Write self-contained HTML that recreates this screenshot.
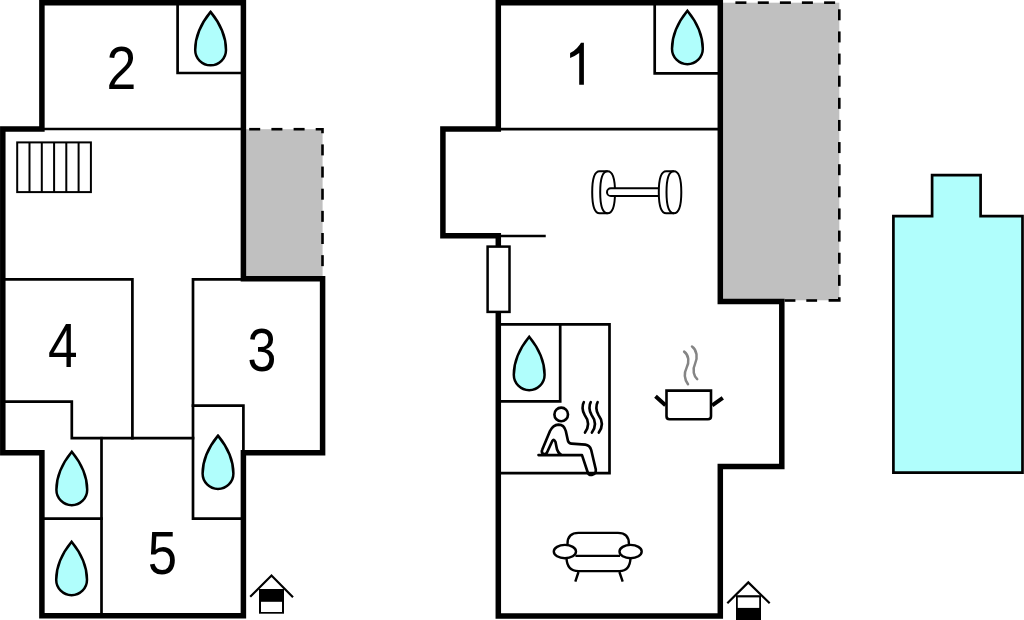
<!DOCTYPE html>
<html><head><meta charset="utf-8">
<style>
html,body{margin:0;padding:0;background:#fff;width:1024px;height:620px;overflow:hidden}
svg{display:block}
text{font-family:"Liberation Sans",sans-serif;fill:#000}
</style></head>
<body>
<svg width="1024" height="620" viewBox="0 0 1024 620">
<rect width="1024" height="620" fill="#fff"/>

<rect x="243.4" y="129.2" width="79.2" height="149.6" fill="#c0c0c0"/>
<g fill="#000"><rect x="249.20" y="127.90" width="11" height="2.6"/><rect x="271.40" y="127.90" width="11" height="2.6"/><rect x="293.60" y="127.90" width="11" height="2.6"/><path d="M315.7,127.9 H323.8 V133.2 H321.2 V130.5 H315.7 Z"/><rect x="321.20" y="144.40" width="2.6" height="11"/><rect x="321.20" y="166.55" width="2.6" height="11"/><rect x="321.20" y="188.70" width="2.6" height="11"/><rect x="321.20" y="210.85" width="2.6" height="11"/><rect x="321.20" y="233.00" width="2.6" height="11"/><rect x="321.20" y="255.15" width="2.6" height="11"/></g>
<g fill="none" stroke="#000" stroke-width="2.7" stroke-linecap="square">
<path d="M41.9,129 H243.4"/>
<path d="M177.6,2.7 V73 H243.4"/>
<path d="M2.8,279.3 H132.4 V438.2"/>
<path d="M2.8,401.6 H71.8 V438.2 H193"/>
<path d="M101.5,438.2 V615.8"/>
<path d="M41.9,518.6 H101.5"/>
<path d="M243.4,279.3 H193 V518.6 H243.4"/>
<path d="M193,405.6 H243.4 V452.7"/>
</g>
<path d="M41.9,2.7 H243.4 V278.8 H322.6 V452.7 H243.4 V615.8 H41.9 V452.7 H2.8 V129 H41.9 Z" fill="none" stroke="#000" stroke-width="5.5"/>
<g fill="none" stroke="#000" stroke-width="2">
<rect x="17.2" y="142.4" width="73.7" height="49.7"/>
<path d="M29.5,142.4V192.1M41.8,142.4V192.1M54.1,142.4V192.1M66.3,142.4V192.1M78.6,142.4V192.1"/>
</g>
<path transform="translate(210.6,11.9)" d="M0,0 C4.5,5.5 15.4,20 15.4,38 A15.4,15.4 0 0 1 -15.4,38 C-15.4,20 -4.5,5.5 0,0 Z" fill="#b0fefc" stroke="#000" stroke-width="2.5" stroke-linejoin="miter"/>
<path transform="translate(71.8,451.8)" d="M0,0 C4.5,5.5 15.4,20 15.4,38 A15.4,15.4 0 0 1 -15.4,38 C-15.4,20 -4.5,5.5 0,0 Z" fill="#b0fefc" stroke="#000" stroke-width="2.5" stroke-linejoin="miter"/>
<path transform="translate(71.6,541.8)" d="M0,0 C4.5,5.5 15.4,20 15.4,38 A15.4,15.4 0 0 1 -15.4,38 C-15.4,20 -4.5,5.5 0,0 Z" fill="#b0fefc" stroke="#000" stroke-width="2.5" stroke-linejoin="miter"/>
<path transform="translate(218,435.6)" d="M0,0 C4.5,5.5 15.4,20 15.4,38 A15.4,15.4 0 0 1 -15.4,38 C-15.4,20 -4.5,5.5 0,0 Z" fill="#b0fefc" stroke="#000" stroke-width="2.5" stroke-linejoin="miter"/>
<text transform="translate(121.4,89.4) scale(0.875,1)" font-size="61.3" text-anchor="middle">2</text>
<text transform="translate(62.9,366.7) scale(0.855,1)" font-size="62.2" text-anchor="middle">4</text>
<text transform="translate(261.8,370.8) scale(0.845,1)" font-size="61.3" text-anchor="middle">3</text>
<text transform="translate(162.3,573.8) scale(0.86,1)" font-size="61.3" text-anchor="middle">5</text>
<path d="M250.2,596.8 L271.5,575.5 L293,597.3" fill="none" stroke="#000" stroke-width="2.2"/>
<rect x="259" y="589" width="25" height="24.7" fill="#000"/>
<rect x="261" y="601.8" width="21" height="10.2" fill="#fff"/>
<rect x="720.3" y="2.7" width="119" height="297.6" fill="#c0c0c0"/>
<g fill="#000"><rect x="735.40" y="1.35" width="11" height="2.6"/><rect x="757.80" y="1.35" width="11" height="2.6"/><rect x="779.90" y="1.35" width="11" height="2.6"/><rect x="801.90" y="1.35" width="11" height="2.6"/><rect x="824.10" y="1.35" width="11" height="2.6"/><rect x="838.00" y="9.30" width="2.6" height="11"/><rect x="838.00" y="31.43" width="2.6" height="11"/><rect x="838.00" y="53.56" width="2.6" height="11"/><rect x="838.00" y="75.69" width="2.6" height="11"/><rect x="838.00" y="97.82" width="2.6" height="11"/><rect x="838.00" y="119.95" width="2.6" height="11"/><rect x="838.00" y="142.08" width="2.6" height="11"/><rect x="838.00" y="164.21" width="2.6" height="11"/><rect x="838.00" y="186.34" width="2.6" height="11"/><rect x="838.00" y="208.47" width="2.6" height="11"/><rect x="838.00" y="230.60" width="2.6" height="11"/><rect x="838.00" y="252.73" width="2.6" height="11"/><rect x="838.00" y="274.86" width="2.6" height="11"/><path d="M838,297.2 H840.6 V301.7 H828.6 V299.1 H838 Z"/><rect x="784.60" y="299.20" width="10.8" height="2.6"/><rect x="806.30" y="299.20" width="10.8" height="2.6"/></g>
<g fill="none" stroke="#000" stroke-width="2.7" stroke-linecap="square">
<path d="M498.3,129.2 H720.3"/>
<path d="M654.7,2.7 V73.3 H720.3"/>
<path d="M498.3,236 H544.4"/>
<path d="M498.3,324.3 H609.5 V473.2 H498.3"/>
<path d="M560.2,324.3 V401.4 H498.3"/>
</g>
<path d="M498.3,2.7 H720.3 V301.5 H781.8 V466.4 H720.3 V616 H498.3 V235.7 H442.9 V128.9 H498.3 Z" fill="none" stroke="#000" stroke-width="5.5"/>
<rect x="487.6" y="246.6" width="21.9" height="65.3" fill="#fff" stroke="#000" stroke-width="2.5"/>
<path transform="translate(687.4,10.8)" d="M0,0 C4.5,5.5 15.4,20 15.4,38 A15.4,15.4 0 0 1 -15.4,38 C-15.4,20 -4.5,5.5 0,0 Z" fill="#b0fefc" stroke="#000" stroke-width="2.5" stroke-linejoin="miter"/>
<path transform="translate(529.2,336.8)" d="M0,0 C4.5,5.5 15.4,20 15.4,38 A15.4,15.4 0 0 1 -15.4,38 C-15.4,20 -4.5,5.5 0,0 Z" fill="#b0fefc" stroke="#000" stroke-width="2.5" stroke-linejoin="miter"/>
<path d="M583.9,42.8 V84.8 H579.2 V53.1 Q575.5,56 570.1,57.9 V53.1 Q574,51.2 577,48 Q579.5,45.4 581,42.8 Z" fill="#000"/>
<g fill="#fff" stroke="#000" stroke-width="2">
<path d="M599.6,171.2 H607.6 C612.336,171.2 615.0,178.76 615.0,192.2 C615.0,205.64 612.336,213.2 607.6,213.2 H599.6 C594.864,213.2 592.2,205.64 592.2,192.2 C592.2,178.76 594.864,171.2 599.6,171.2 Z"/><path d="M607.6,171.2 C602.864,171.2 600.2,178.76 600.2,192.2 C600.2,205.64 602.864,213.2 607.6,213.2" fill="none"/>
<rect x="607" y="188.3" width="58" height="7.7" rx="3.85"/>
<path d="M666.2,171.2 H673.9 C678.636,171.2 681.3,178.76 681.3,192.2 C681.3,205.64 678.636,213.2 673.9,213.2 H666.2 C661.464,213.2 658.8000000000001,205.64 658.8000000000001,192.2 C658.8000000000001,178.76 661.464,171.2 666.2,171.2 Z"/><path d="M673.9,171.2 C669.164,171.2 666.5,178.76 666.5,192.2 C666.5,205.64 669.164,213.2 673.9,213.2" fill="none"/>
</g>
<path d="M684.1,351.6 C689,355 689.5,362 686.5,368 C683.5,374 685,380 688,384.3" fill="none" stroke="#858585" stroke-width="2.5" stroke-linecap="round"/>
<path d="M692,346.5 C697,350 698,358 695,364 C692,370 694,376 697.2,379.2" fill="none" stroke="#858585" stroke-width="2.5" stroke-linecap="round"/>
<path d="M655.5,396.3 L665.5,405.3 M712.2,405.3 L722.8,397.8" stroke="#000" stroke-width="4"/>
<path d="M666.5,390.6 H711 V416.3 Q711,419.3 708,419.3 H669.5 Q666.5,419.3 666.5,416.3 Z" fill="#fff" stroke="#000" stroke-width="2.6"/>
<g fill="none" stroke="#000" stroke-width="2.65" stroke-linecap="round" stroke-linejoin="round">
<circle cx="561.2" cy="414.4" r="6.8"/>
<path d="M562,455.1 C558.5,453.5 557,451 556.5,447 L555.5,442 Q554,438.5 552.3,441 L547,452.5 Q545.5,455 543,453.6 Q541,452 542.3,449.5 L550,431 Q553,425 558.5,424.6 Q564,424.6 565.8,431 L568,441 Q569,443.6 571.5,443.6 L585.3,444.6 Q589.8,445.2 591.2,450 L595.8,469.5 Q596.3,474 591.8,475 Q588.6,475.3 587.6,472 L582,455.1 H538.5"/>
<path d="M583.8,402.2 C582.0,405 582.0,411 584.7,415 C587.7,419 590.3,425 585.0,432.6"/>
<path d="M590.7,402.2 C588.9,405 588.9,411 591.6,415 C594.6,419 597.2,425 591.9,432.6"/>
<path d="M597.6,402.2 C595.8,405 595.8,411 598.5,415 C601.5,419 604.1,425 598.8,432.6"/>

</g>
<g fill="none" stroke="#000" stroke-width="2.4">
<path d="M567.5,552 V543.9 Q567.5,532.9 578.5,532.9 H617.9 Q628.9,532.9 628.9,543.9 V552"/>
<path d="M575.4,555.9 H620"/>
<path d="M566.5,558 Q567,571.1 578.5,571.1 H619.4 Q630,571.1 630.5,558"/>
<path d="M578.5,572 L575.3,581.6 M619.4,572 L622.7,581.6"/>
<ellipse cx="564.9" cy="551.6" rx="11.1" ry="6.7" fill="#fff"/>
<ellipse cx="630.6" cy="551.6" rx="11.1" ry="6.7" fill="#fff"/>
</g>
<path d="M727.3,603.3 L748.3,582.4 L769.7,603.3" fill="none" stroke="#000" stroke-width="2.2"/>
<rect x="736" y="595.2" width="25" height="25" fill="#000"/>
<rect x="737.8" y="597.4" width="21.4" height="10.5" fill="#fff"/>
<path d="M893.4,216.2 H932.1 V175.2 H980.6 V216.2 H1022.5 V472.7 H893.4 Z" fill="#b0fefc" stroke="#000" stroke-width="2.7"/>
</svg>
</body></html>
